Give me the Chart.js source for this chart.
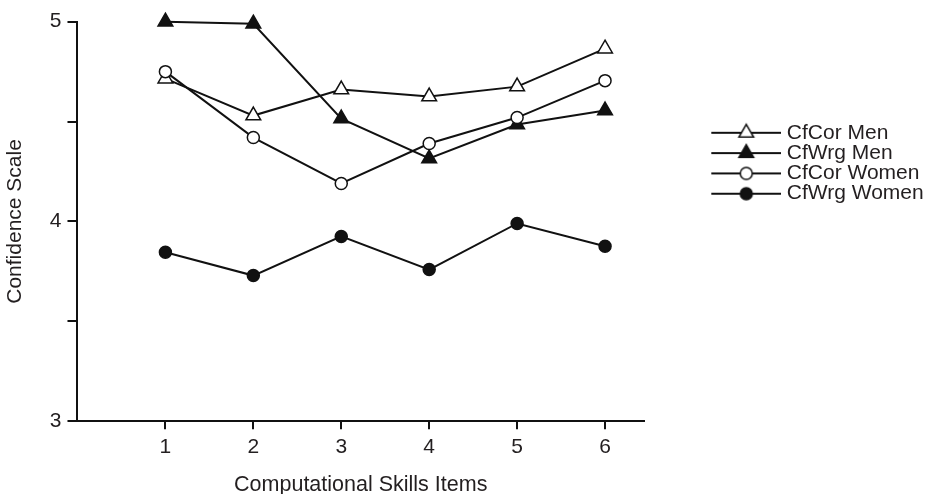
<!DOCTYPE html>
<html>
<head>
<meta charset="utf-8">
<script src="https://cdn.jsdelivr.net/npm/chart.js@4.4.0/dist/chart.umd.min.js"></script>
<style>
html,body{margin:0;padding:0;background:#fff;}
#wrap{width:930px;height:494px;}
</style>
</head>
<body>
<div id="wrap"><canvas id="c" width="930" height="494"></canvas></div>
<script>
// ---- data ----
const categories = [1, 2, 3, 4, 5, 6];
const seriesLabels = ['CfCor Men', 'CfWrg Men', 'CfCor Women', 'CfWrg Women'];
const cfCorMen   = [4.715, 4.53, 4.66, 4.625, 4.675, 4.865];
const cfWrgMen   = [5.0, 4.99, 4.515, 4.315, 4.485, 4.555];
const cfCorWomen = [4.75, 4.42, 4.19, 4.39, 4.52, 4.705];
const cfWrgWomen = [3.846, 3.729, 3.925, 3.759, 3.99, 3.876];
const xTitle = 'Computational Skills Items';
const yTitle = 'Confidence Scale';

const INK = '#111';
const TXT = '#231f20';
Chart.defaults.font.family = "'Liberation Sans', Arial, Helvetica, sans-serif";

const styles = [
  {shape: 'triangle', fill: '#fff', r: 8.5},
  {shape: 'triangle', fill: INK, r: 8.5},
  {shape: 'circle', fill: '#fff', r: 6},
  {shape: 'circle', fill: INK, r: 6}
];
const seriesValues = [cfCorMen, cfWrgMen, cfCorWomen, cfWrgWomen];
const drawOrder = [1, 2, 0, 3];

function legendImage(st) {
  const W = 143, H = 22, cx = 108, cy = 11;
  const c = document.createElement('canvas');
  c.width = W; c.height = H;
  const g = c.getContext('2d');
  g.strokeStyle = INK; g.lineWidth = 2;
  g.beginPath(); g.moveTo(73, cy); g.lineTo(W, cy); g.stroke();
  g.fillStyle = st.fill; g.lineWidth = 1.5;
  g.beginPath();
  if (st.shape === 'circle') {
    g.arc(cx, cy, st.r, 0, Math.PI * 2);
  } else {
    const r = st.r;
    g.moveTo(cx, cy - r);
    g.lineTo(cx + r * Math.sin(2 * Math.PI / 3), cy + r / 2);
    g.lineTo(cx - r * Math.sin(2 * Math.PI / 3), cy + r / 2);
    g.closePath();
  }
  g.fill(); g.stroke();
  return c;
}
const legendImgs = styles.map(legendImage);

const datasets = seriesLabels.map((lab, i) => ({
  label: lab,
  data: categories.map((x, j) => ({x: x, y: seriesValues[i][j]})),
  borderColor: INK,
  borderWidth: 2,
  tension: 0,
  fill: false,
  pointStyle: styles[i].shape,
  pointRadius: styles[i].r,
  pointHoverRadius: styles[i].r,
  pointBackgroundColor: styles[i].fill,
  pointBorderColor: INK,
  pointBorderWidth: 1.5,
  clip: false,
  order: drawOrder[i]
}));

new Chart(document.getElementById('c'), {
  type: 'line',
  data: {datasets: datasets},
  options: {
    responsive: false,
    animation: false,
    events: [],
    layout: {padding: {top: 21.7, right: 0, bottom: 0, left: 0}},
    scales: {
      x: {
        type: 'linear',
        min: 0,
        max: 6.443,
        afterBuildTicks: s => { s.ticks = categories.map(v => ({value: v})); },
        ticks: {font: {size: 21, lineHeight: 1}, color: TXT, padding: 8, callback: v => String(v)},
        grid: {display: true, drawOnChartArea: false, drawTicks: true, tickLength: 8, lineWidth: 2, color: INK},
        border: {display: true, color: INK, width: 2},
        title: {display: true, text: xTitle, color: TXT, font: {size: 21.5, lineHeight: 0.8}, padding: {top: 10.6, bottom: 0}}
      },
      y: {
        type: 'linear',
        min: 3,
        max: 5,
        ticks: {stepSize: 0.5, font: {size: 21, lineHeight: 1}, color: TXT, padding: 6,
                callback: v => Number.isInteger(v) ? String(v) : ''},
        grid: {display: true, drawOnChartArea: false, drawTicks: true, tickLength: 10, lineWidth: 2, color: INK},
        border: {display: true, color: INK, width: 2},
        title: {display: true, text: yTitle, color: TXT, font: {size: 21, lineHeight: 1.2}, padding: {top: 3, bottom: 15.6}}
      }
    },
    plugins: {
      tooltip: {enabled: false},
      legend: {
        position: 'right',
        align: 'start',
        maxWidth: 286,
        title: {display: true, text: ' ', color: 'rgba(0,0,0,0)', font: {size: 12, lineHeight: 1.2}, padding: {top: 86.9, bottom: 0}},
        labels: {
          usePointStyle: true,
          pointStyleWidth: 133,
          padding: -0.7,
          color: TXT,
          font: {size: 21},
          generateLabels: chart => chart.data.datasets.map((ds, i) => ({
            text: ds.label,
            pointStyle: legendImgs[i],
            fillStyle: styles[i].fill,
            strokeStyle: INK,
            lineWidth: 0,
            hidden: false,
            fontColor: TXT,
            datasetIndex: i
          }))
        }
      }
    }
  }
});
</script>
</body>
</html>
